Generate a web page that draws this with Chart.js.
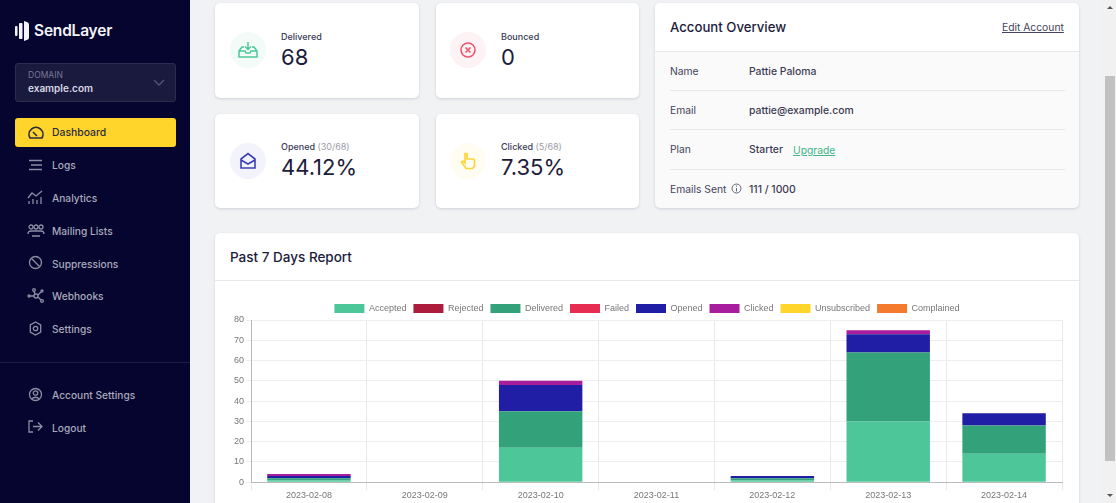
<!DOCTYPE html>
<html>
<head>
<meta charset="utf-8">
<title>SendLayer Dashboard</title>
<script src="https://cdn.jsdelivr.net/npm/chart.js@4"></script>
<style>
* { box-sizing: border-box; }
html, body { margin: 0; padding: 0; width: 1116px; height: 503px; overflow: hidden; background: #f1f2f4; font-family: Inter, "Noto Sans", sans-serif; color: #1c1c3c; }
.abs { position: absolute; }
#sidebar { left: 0; top: 0; width: 190px; height: 503px; background: #05052f; }
.logo { left: 34px; top: 21px; font-size: 15.5px; font-weight: 600; color: #f4f4f8; letter-spacing: -0.2px; }
.domain { left: 15px; top: 63px; width: 161px; height: 39px; background: #1a1a3f; border: 1px solid #2c2c50; border-radius: 3px; }
.domain .lbl { position: absolute; left: 12px; top: 6px; font-size: 8.5px; color: #77778f; }
.domain .val { position: absolute; left: 12px; top: 18px; font-size: 10px; font-weight: 600; color: #d8d8e2; }
.active { left: 15px; top: 118px; width: 161px; height: 29px; background: #ffd52b; border-radius: 3px; }
.nav { left: 52px; font-size: 10.2px; font-weight: 500; color: #a9a9bb; line-height: 14px; }
.nav.on { color: #2b2b40; }
.ico { position: absolute; fill: none; stroke: #8d8da3; stroke-width: 1.3; }
.divider { left: 0; top: 362px; width: 190px; height: 1px; background: #1d1d42; }
.card { background: #fff; border-radius: 5px; box-shadow: 0 1px 3px rgba(30,30,60,.16); }
.circle { width: 36px; height: 36px; border-radius: 50%; }
.stat-l { font-size: 9px; color: #3a3a55; font-weight: 500; line-height: 12px; }
.stat-l span { color: #9b9bab; font-weight: 400; }
.stat-v { font-size: 22px; color: #1c1c3c; line-height: 26px; font-weight: 400; }
.row-l { left: 670px; font-size: 10.3px; color: #44445c; line-height: 14px; }
.row-v { left: 749px; font-size: 10.4px; color: #3b3b54; font-weight: 500; line-height: 14px; }
.rule { left: 670px; width: 395px; height: 1px; background: #e8e8ec; }
#chart1 { position: absolute; left: 232px; top: 297px; }
</style>
</head>
<body>
<div class="abs" id="sidebar"></div>
<svg class="abs" style="left:14px;top:20px" width="18" height="22" viewBox="0 0 18 22"><g fill="#f4f4f8"><rect x="1" y="6" width="2.5" height="10" rx="1"/><rect x="5" y="3" width="3.5" height="16" rx="1"/><path d="M10 1 L14 2.5 Q15 3 15 5 L15 17 Q15 19 14 19.5 L10 21 Z"/></g></svg>
<div class="abs logo">SendLayer</div>
<div class="abs domain"><div class="lbl">DOMAIN</div><div class="val">example.com</div>
<svg class="ico" style="left:137px;top:15px;stroke:#55556f" width="12" height="8"><path d="M1 1 L6 6 L11 1"/></svg></div>
<div class="abs active"></div>
<svg class="ico" style="left:27px;top:126px;stroke:#2b2b40;stroke-width:1.6" width="18" height="14"><path d="M3 12 A7 7 0 1 1 15 12 Z M6 6 L10 10"/></svg>
<div class="abs nav on" style="top:126px;font-size:10.4px">Dashboard</div>
<svg class="ico" style="left:28px;top:159px" width="15" height="12"><path d="M1 1.5H14M3 6H14M1 10.5H14"/></svg>
<div class="abs nav" style="top:158px">Logs</div>
<svg class="ico" style="left:27px;top:190px" width="17" height="15"><path d="M1 8 L5 3 L9 6 L15 1 M2 14V11M6 14V9M10 14V10M14 14V7"/></svg>
<div class="abs nav" style="top:191px">Analytics</div>
<svg class="ico" style="left:27px;top:224px" width="18" height="13"><circle cx="4" cy="3" r="2"/><circle cx="9" cy="3" r="2"/><circle cx="14" cy="3" r="2"/><path d="M1 10Q1 7 4 7H14Q17 7 17 10M5 12H13"/></svg>
<div class="abs nav" style="top:224px">Mailing Lists</div>
<svg class="ico" style="left:28px;top:255px" width="15" height="15"><circle cx="7.5" cy="7.5" r="6"/><path d="M3.5 3.5L11.5 11.5"/></svg>
<div class="abs nav" style="top:257px">Suppressions</div>
<svg class="ico" style="left:27px;top:288px" width="18" height="16"><circle cx="2" cy="8" r="1"/><circle cx="7" cy="2" r="1.3"/><circle cx="9" cy="8" r="2"/><circle cx="15" cy="3" r="1"/><circle cx="15" cy="13" r="1.3"/><path d="M3 8H7M7 3L8 6M11 7L14 4M11 9L14 12"/></svg>
<div class="abs nav" style="top:289px">Webhooks</div>
<svg class="ico" style="left:28px;top:321px" width="15" height="15"><circle cx="7.5" cy="7.5" r="2.2"/><path d="M7.5 1L12.7 4V11L7.5 14L2.3 11V4Z"/></svg>
<div class="abs nav" style="top:322px">Settings</div>
<div class="abs divider"></div>
<svg class="ico" style="left:28px;top:387px" width="15" height="15"><circle cx="7.5" cy="7.5" r="6"/><circle cx="7.5" cy="6" r="2.2"/><path d="M3.5 12Q7.5 8.5 11.5 12"/></svg>
<div class="abs nav" style="top:388px">Account Settings</div>
<svg class="ico" style="left:28px;top:420px" width="15" height="13"><path d="M5 1H1V12H5M5 6.5H14M10 2.5L14 6.5L10 10.5"/></svg>
<div class="abs nav" style="top:421px">Logout</div>

<div class="abs card" style="left:215px;top:3px;width:204px;height:95px"></div>
<div class="abs circle" style="left:230px;top:32px;background:#f2fbf7"></div>
<svg class="abs" style="left:238px;top:41px" width="20" height="18" fill="none" stroke="#4ec79b" stroke-width="1.5"><path d="M1 10L4 6H6M14 6H16L19 10V16H1V10H7L8 12H12L13 10H19M10 1V8M7 5.5L10 8.5L13 5.5"/></svg>
<div class="abs stat-l" style="left:281px;top:31px">Delivered</div>
<div class="abs stat-v" style="left:281px;top:44px">68</div>

<div class="abs card" style="left:436px;top:3px;width:203px;height:95px"></div>
<div class="abs circle" style="left:450px;top:32px;background:#fef3f4"></div>
<svg class="abs" style="left:459px;top:41px" width="18" height="18" fill="none" stroke="#ee5570" stroke-width="1.6"><circle cx="9" cy="9" r="7"/><path d="M6.5 6.5L11.5 11.5M11.5 6.5L6.5 11.5"/></svg>
<div class="abs stat-l" style="left:501px;top:31px">Bounced</div>
<div class="abs stat-v" style="left:501px;top:44px">0</div>

<div class="abs card" style="left:215px;top:114px;width:204px;height:94px"></div>
<div class="abs circle" style="left:230px;top:143px;background:#f3f3fb"></div>
<svg class="abs" style="left:239px;top:152px" width="18" height="18" fill="none" stroke="#3f3fb5" stroke-width="1.6"><path d="M2 7L9 1.5L16 7V16H2ZM2 8L9 12L16 8"/></svg>
<div class="abs stat-l" style="left:281px;top:141px">Opened <span>(30/68)</span></div>
<div class="abs stat-v" style="left:281px;top:154px">44.12%</div>

<div class="abs card" style="left:436px;top:114px;width:203px;height:94px"></div>
<div class="abs circle" style="left:450px;top:143px;background:#fffdf2"></div>
<svg class="abs" style="left:460px;top:152px" width="16" height="18" fill="none" stroke="#fcd53a" stroke-width="1.7"><path d="M5 1.5H7V7H13Q14.5 7 14.5 9V14L12.5 16.5H6L1.5 10L3 9L5 11Z"/></svg>
<div class="abs stat-l" style="left:501px;top:141px">Clicked <span>(5/68)</span></div>
<div class="abs stat-v" style="left:501px;top:154px">7.35%</div>

<div class="abs card" style="left:655px;top:3px;width:424px;height:205px;background:#fafafa;overflow:hidden"><div style="height:49px;background:#fff;border-bottom:1px solid #e8e8ec"></div></div>
<div class="abs" style="left:670px;top:19px;font-size:13.2px;font-weight:500;line-height:17px">Account Overview</div>
<div class="abs" style="left:1002px;top:20px;font-size:10.3px;color:#44445c;text-decoration:underline;line-height:14px">Edit Account</div>
<div class="abs row-l" style="top:64px">Name</div><div class="abs row-v" style="top:65px">Pattie Paloma</div>
<div class="abs rule" style="top:90px"></div>
<div class="abs row-l" style="top:103px">Email</div><div class="abs row-v" style="top:104px">pattie@example.com</div>
<div class="abs rule" style="top:129px"></div>
<div class="abs row-l" style="top:142px">Plan</div><div class="abs row-v" style="top:143px">Starter</div>
<div class="abs" style="left:793px;top:143px;font-size:10.3px;color:#3fb58a;text-decoration:underline;line-height:14px">Upgrade</div>
<div class="abs rule" style="top:169px"></div>
<div class="abs row-l" style="top:182px">Emails Sent</div>
<svg class="abs" style="left:731px;top:183px" width="11" height="11" fill="none" stroke="#66667c"><circle cx="5.5" cy="5.5" r="4.5"/><path d="M5.5 5V8.5M5.5 2.5V3.7"/></svg>
<div class="abs row-v" style="top:183px">111 / 1000</div>

<div class="abs card" style="left:215px;top:233px;width:864px;height:290px"><div style="height:48px;border-bottom:1px solid #e8e8ec"></div></div>
<div class="abs" style="left:230px;top:249px;font-size:13.5px;font-weight:500;line-height:17px">Past 7 Days Report</div>
<canvas id="chart1"></canvas>

<div class="abs" style="left:1100px;top:0;width:16px;height:503px;background:#f1f1f1"></div>
<div class="abs" style="left:1105px;top:76px;width:10px;height:385px;background:#c1c1c1"></div>
<svg class="abs" style="left:1104px;top:4px" width="12" height="6"><path d="M3 5L6 2L9 5Z" fill="#555"/></svg>
<svg class="abs" style="left:1104px;top:493px" width="12" height="6"><path d="M3 1L6 4L9 1Z" fill="#555"/></svg>

<script>
const categories = ["2023-02-08", "2023-02-09", "2023-02-10", "2023-02-11", "2023-02-12", "2023-02-13", "2023-02-14"];
const accepted = [1, 0, 17, 0, 1, 30, 14];
const rejected = [0, 0, 0, 0, 0, 0, 0];
const delivered = [1, 0, 18, 0, 1, 34, 14];
const failed = [0, 0, 0, 0, 0, 0, 0];
const opened = [1, 0, 13, 0, 1, 9, 6];
const clicked = [1, 0, 2, 0, 0, 2, 0];
const unsubscribed = [0, 0, 0, 0, 0, 0, 0];
const complained = [0, 0, 0, 0, 0, 0, 0];
const seriesNames = ["Accepted", "Rejected", "Delivered", "Failed", "Opened", "Clicked", "Unsubscribed", "Complained"];
const seriesColors = ["#4dc799", "#ad1c3c", "#33a27b", "#e62c50", "#201ea5", "#a81d9c", "#ffd52b", "#f47a2e"];
const seriesValues = [accepted, rejected, delivered, failed, opened, clicked, unsubscribed, complained];

const canvas = document.getElementById("chart1");
canvas.width = 850;
canvas.height = 204;
canvas.style.width = "850px";
canvas.style.height = "204px";

// legend sits closer to the plot than the default fit
const legendGap = {
    id: "legendGap",
    beforeInit(chart) {
        const fit = chart.legend.fit;
        chart.legend.fit = function () {
            fit.bind(chart.legend)();
            this.height -= 3;
        };
    }
};

const chart1 = new Chart(canvas, {
    type: "bar",
    data: {
        labels: categories,
        datasets: seriesNames.map((name, i) => ({
            label: name,
            data: seriesValues[i],
            backgroundColor: seriesColors[i],
            borderColor: seriesColors[i],
            borderWidth: 0
        }))
    },
    options: {
        responsive: false,
        animation: false,
        devicePixelRatio: 1,
        layout: { padding: { right: 20 } },
        plugins: {
            legend: {
                labels: { boxWidth: 30, boxHeight: 9, padding: 7, color: "#777", font: { family: "'Liberation Sans'", size: 9 } }
            },
            tooltip: { enabled: false }
        },
        scales: {
            x: {
                stacked: true,
                grid: { color: "#e9e9e9", tickLength: 8 },
                border: { color: "#bbb" },
                ticks: { color: "#777", padding: 0, maxRotation: 0, font: { family: "'Liberation Sans'", size: 9 } }
            },
            y: {
                stacked: true,
                min: 0,
                max: 80,
                grid: { color: "#eeeeee", tickLength: 5 },
                border: { color: "#bbb" },
                ticks: { color: "#777", stepSize: 10, padding: 2, font: { family: "'Liberation Sans'", size: 9 } }
            }
        }
    },
    plugins: [legendGap]
});
</script>
</body>
</html>
